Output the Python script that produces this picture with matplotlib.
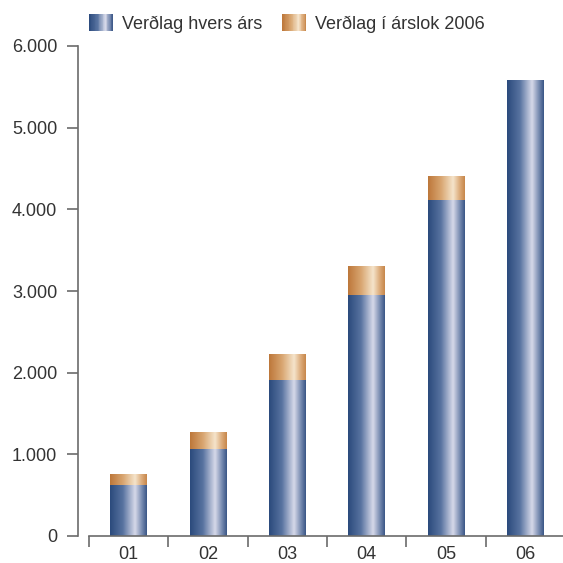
import numpy as np
import matplotlib
matplotlib.use("Agg")
import matplotlib.pyplot as plt
from matplotlib.colors import LinearSegmentedColormap
from matplotlib.patches import Rectangle
from matplotlib.legend_handler import HandlerBase

plt.rcParams['font.family'] = ['Liberation Sans', 'DejaVu Sans']

ar = ["01", "02", "03", "04", "05", "06"]
verdlag_hvers_ars = [622, 1065, 1910, 2950, 4115, 5585]
verdlag_arslok_2006 = [755, 1270, 2228, 3305, 4405, 5585]
heiti = ["Verðlag hvers árs", "Verðlag í árslok 2006"]

blar = LinearSegmentedColormap.from_list("blar", [
    (0.0, "#2b4a7c"), (0.35, "#5873a0"), (0.68, "#d6d9e9"),
    (0.86, "#7a8db2"), (1.0, "#3a5686")])
appelsinugulur = LinearSegmentedColormap.from_list("appels", [
    (0.0, "#bd773a"), (0.35, "#d8a570"), (0.68, "#f5e4cb"),
    (0.86, "#dcab7a"), (1.0, "#c7864a")])

texti = "#333333"
lina = "#6b6b6b"
fs = 13


def teikna_halla(ax, bars, cmap):
    grad = np.linspace(0, 1, 256).reshape(1, -1)
    for b in bars:
        x, y = b.get_x(), b.get_y()
        w, h = b.get_width(), b.get_height()
        if h <= 0:
            continue
        im = ax.imshow(grad, cmap=cmap, aspect="auto",
                       extent=(x, x + w, y, y + h), zorder=2,
                       interpolation="bilinear")
        im.set_clip_path(b)


class HallaHandler(HandlerBase):
    def __init__(self, cmap):
        super().__init__()
        self.cmap = cmap

    def create_artists(self, legend, orig_handle, xdescent, ydescent,
                       width, height, fontsize, trans):
        n = 30
        artists = []
        for i in range(n):
            r = Rectangle((-xdescent + width * i / n, -ydescent - 1),
                          width / n * 1.05, height + 2,
                          facecolor=self.cmap((i + 0.5) / n),
                          edgecolor="none", transform=trans)
            artists.append(r)
        return artists


fig = plt.figure(figsize=(5.63, 5.63), dpi=100)
ax = fig.add_axes([78 / 563, 27 / 563, 485 / 563, 490 / 563])

x = np.arange(len(ar))
efri = np.array(verdlag_arslok_2006) - np.array(verdlag_hvers_ars)
bar1 = ax.bar(x, verdlag_hvers_ars, width=0.46, color="none", zorder=2)
bar2 = ax.bar(x, efri, bottom=verdlag_hvers_ars, width=0.46,
              color="none", zorder=2)
teikna_halla(ax, bar1, blar)
teikna_halla(ax, bar2, appelsinugulur)

ax.set_xlim(-0.639, 5.477)
ax.set_ylim(0, 6000)

ax.spines["top"].set_visible(False)
ax.spines["right"].set_visible(False)
for s in ("left", "bottom"):
    ax.spines[s].set_color(lina)
    ax.spines[s].set_linewidth(1.2)
ax.spines["bottom"].set_bounds(-0.5, 5.477)

ax.set_yticks(range(0, 6001, 1000))
ax.set_yticklabels([f"{v:,}".replace(",", ".") for v in range(0, 6001, 1000)])
ax.tick_params(axis="y", length=8, width=1.2, color=lina, pad=7,
               labelsize=fs, labelcolor=texti)

ax.set_xticks(np.arange(-0.5, 5.5, 1.0))
ax.set_xticklabels([])
ax.set_xticks(x, minor=True)
ax.set_xticklabels(ar, minor=True)
ax.tick_params(axis="x", which="major", length=8, width=1.2, color=lina)
ax.tick_params(axis="x", which="minor", length=0, pad=7,
               labelsize=fs, labelcolor=texti)

h1 = Rectangle((0, 0), 1, 1)
h2 = Rectangle((0, 0), 1, 1)
fig.legend([h1, h2], heiti, loc="upper left",
           bbox_to_anchor=(89 / 563, 1 - 15 / 563), ncol=2, frameon=False,
           borderpad=0, borderaxespad=0,
           fontsize=fs, labelcolor=texti, handlelength=1.33,
           handleheight=0.9, handletextpad=0.5, columnspacing=1.1,
           handler_map={h1: HallaHandler(blar),
                        h2: HallaHandler(appelsinugulur)})

fig.savefig("out.png", dpi=100)
